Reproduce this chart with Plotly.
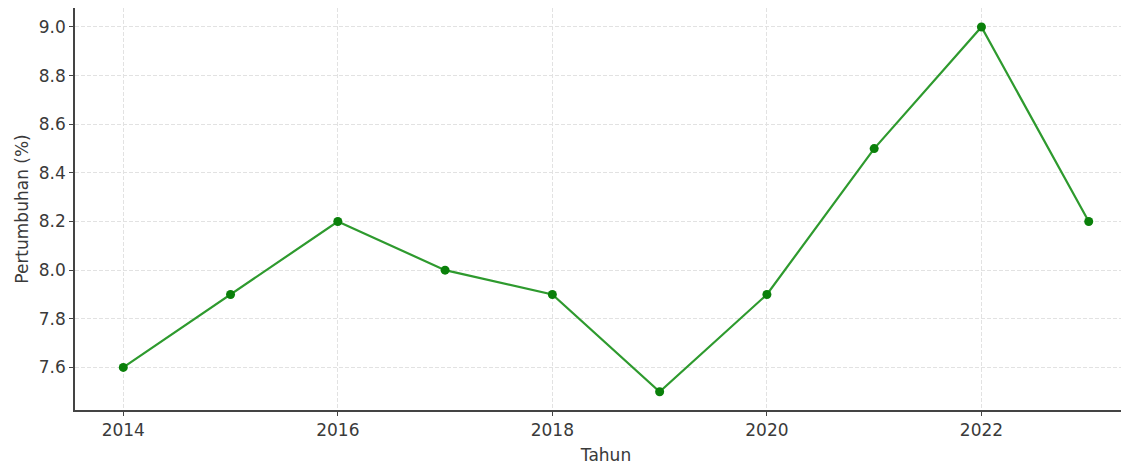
import plotly.graph_objects as go

tahun = [2014, 2015, 2016, 2017, 2018, 2019, 2020, 2021, 2022, 2023]
pertumbuhan = [7.6, 7.9, 8.2, 8.0, 7.9, 7.5, 7.9, 8.5, 9.0, 8.2]
x_ticks = [2014, 2016, 2018, 2020, 2022]
y_ticks = [7.6, 7.8, 8.0, 8.2, 8.4, 8.6, 8.8, 9.0]

fig = go.Figure()
fig.add_trace(go.Scatter(
    x=tahun, y=pertumbuhan, mode="lines+markers",
    line=dict(color="#2e9a2e", width=2.2),
    marker=dict(color="#0a800a", size=9),
    showlegend=False,
))

txt = dict(family="DejaVu Sans", size=17, color="#3a3a3a")
fig.update_layout(
    width=1129, height=465,
    margin=dict(l=67, r=0, t=0, b=63),
    plot_bgcolor="white", paper_bgcolor="white",
    font=txt,
)
common = dict(
    showline=True, linecolor="#444", linewidth=1.6, mirror=False,
    ticks="outside", ticklen=4, tickcolor="#444",
    showgrid=True, gridcolor="#e2e2e2", griddash="4px,2px", gridwidth=1,
    zeroline=False, tickfont=txt,
)
fig.update_xaxes(
    range=[2013.55, 2023.45], tickvals=x_ticks, ticktext=[str(v) for v in x_ticks],
    title=dict(text="Tahun", font=txt, standoff=10),
    **common,
)
fig.update_yaxes(
    range=[7.425, 9.078], tickvals=y_ticks, ticktext=[f"{v:.1f}" for v in y_ticks],
    title=dict(text="Pertumbuhan (%)", font=txt, standoff=6),
    **common,
)

fig.write_html("out.html")
